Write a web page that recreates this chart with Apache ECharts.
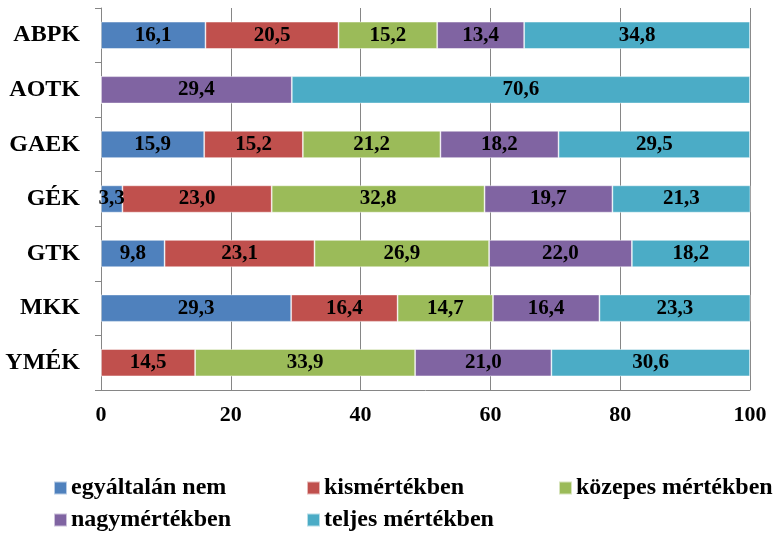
<!DOCTYPE html>
<html>
<head>
<meta charset="utf-8">
<script src="https://cdn.jsdelivr.net/npm/echarts@6/dist/echarts.min.js"></script>
<style>
  html, body { margin: 0; padding: 0; background: #fff; }
  #chart { width: 775px; height: 534px; }
</style>
</head>
<body>
<div id="chart"></div>
<script>
// Faculties (top to bottom)
const categories = ['ABPK', 'AOTK', 'GAEK', 'GÉK', 'GTK', 'MKK', 'YMÉK'];

// Response shares (%) per faculty
const seriesNames = ['egyáltalán nem', 'kismértékben', 'közepes mértékben', 'nagymértékben', 'teljes mértékben'];
const egyaltalanNem    = [16.1, 0,    15.9, 3.3,  9.8,  29.3, 0];
const kismertekben     = [20.5, 0,    15.2, 23.0, 23.1, 16.4, 14.5];
const kozepesMertekben = [15.2, 0,    21.2, 32.8, 26.9, 14.7, 33.9];
const nagymertekben    = [13.4, 29.4, 18.2, 19.7, 22.0, 16.4, 21.0];
const teljesMertekben  = [34.8, 70.6, 29.5, 21.3, 18.2, 23.3, 30.6];

const valueTicks = [0, 20, 40, 60, 80, 100];

const seriesValues = [egyaltalanNem, kismertekben, kozepesMertekben, nagymertekben, teljesMertekben];
const colors = ['#4F81BD', '#C0504D', '#9BBB59', '#8064A2', '#4BACC6'];

const FONT = '"Liberation Serif", "Times New Roman", serif';
const AXIS_GREY = '#868686';

const series = seriesNames.map((name, i) => ({
  name: name,
  type: 'bar',
  stack: 'total',
  barWidth: '50%',
  data: seriesValues[i],
  itemStyle: { color: colors[i], borderColor: 'rgba(255,255,255,0.6)', borderWidth: 0.8 },
  label: {
    show: true,
    position: 'inside',
    color: '#000',
    fontFamily: FONT,
    fontWeight: 'bold',
    fontSize: 21,
    formatter: p => (p.value ? p.value.toFixed(1).replace('.', ',') : '')
  },
  emphasis: { disabled: true }
}));

// Legend laid out in three aligned columns
const legendPos = [
  { left: 53,  top: 476 },
  { left: 306, top: 476 },
  { left: 558, top: 476 },
  { left: 53,  top: 508 },
  { left: 306, top: 508 }
];
const legends = seriesNames.map((name, i) => ({
  data: [name],
  left: legendPos[i].left,
  top: legendPos[i].top,
  icon: 'rect',
  itemWidth: 13,
  itemHeight: 13,
  itemGap: 0,
  padding: 0,
  selectedMode: false,
  textStyle: { fontFamily: FONT, fontWeight: 'bold', fontSize: 24, color: '#000', padding: [0, 0, 0, -1] }
}));

const chart = echarts.init(document.getElementById('chart'), null, { renderer: 'canvas' });
chart.setOption({
  animation: false,
  color: colors,
  legend: legends,
  grid: { left: 101, right: 25, top: 8, bottom: 144, containLabel: false },
  xAxis: {
    type: 'value',
    min: valueTicks[0],
    max: valueTicks[valueTicks.length - 1],
    interval: valueTicks[1] - valueTicks[0],
    axisLine: { show: true, lineStyle: { color: AXIS_GREY, width: 1 } },
    axisTick: { show: false },
    splitLine: { show: true, lineStyle: { color: AXIS_GREY, width: 1 } },
    axisLabel: {
      margin: 14,
      color: '#000',
      fontFamily: FONT,
      fontWeight: 'bold',
      fontSize: 22
    }
  },
  yAxis: {
    type: 'category',
    data: categories,
    inverse: true,
    axisLine: { show: true, lineStyle: { color: AXIS_GREY, width: 1 } },
    axisTick: { show: true, length: 6, alignWithLabel: false, lineStyle: { color: AXIS_GREY } },
    axisLabel: {
      margin: 21,
      color: '#000',
      fontFamily: FONT,
      fontWeight: 'bold',
      fontSize: 24
    }
  },
  series: series
});
</script>
</body>
</html>
